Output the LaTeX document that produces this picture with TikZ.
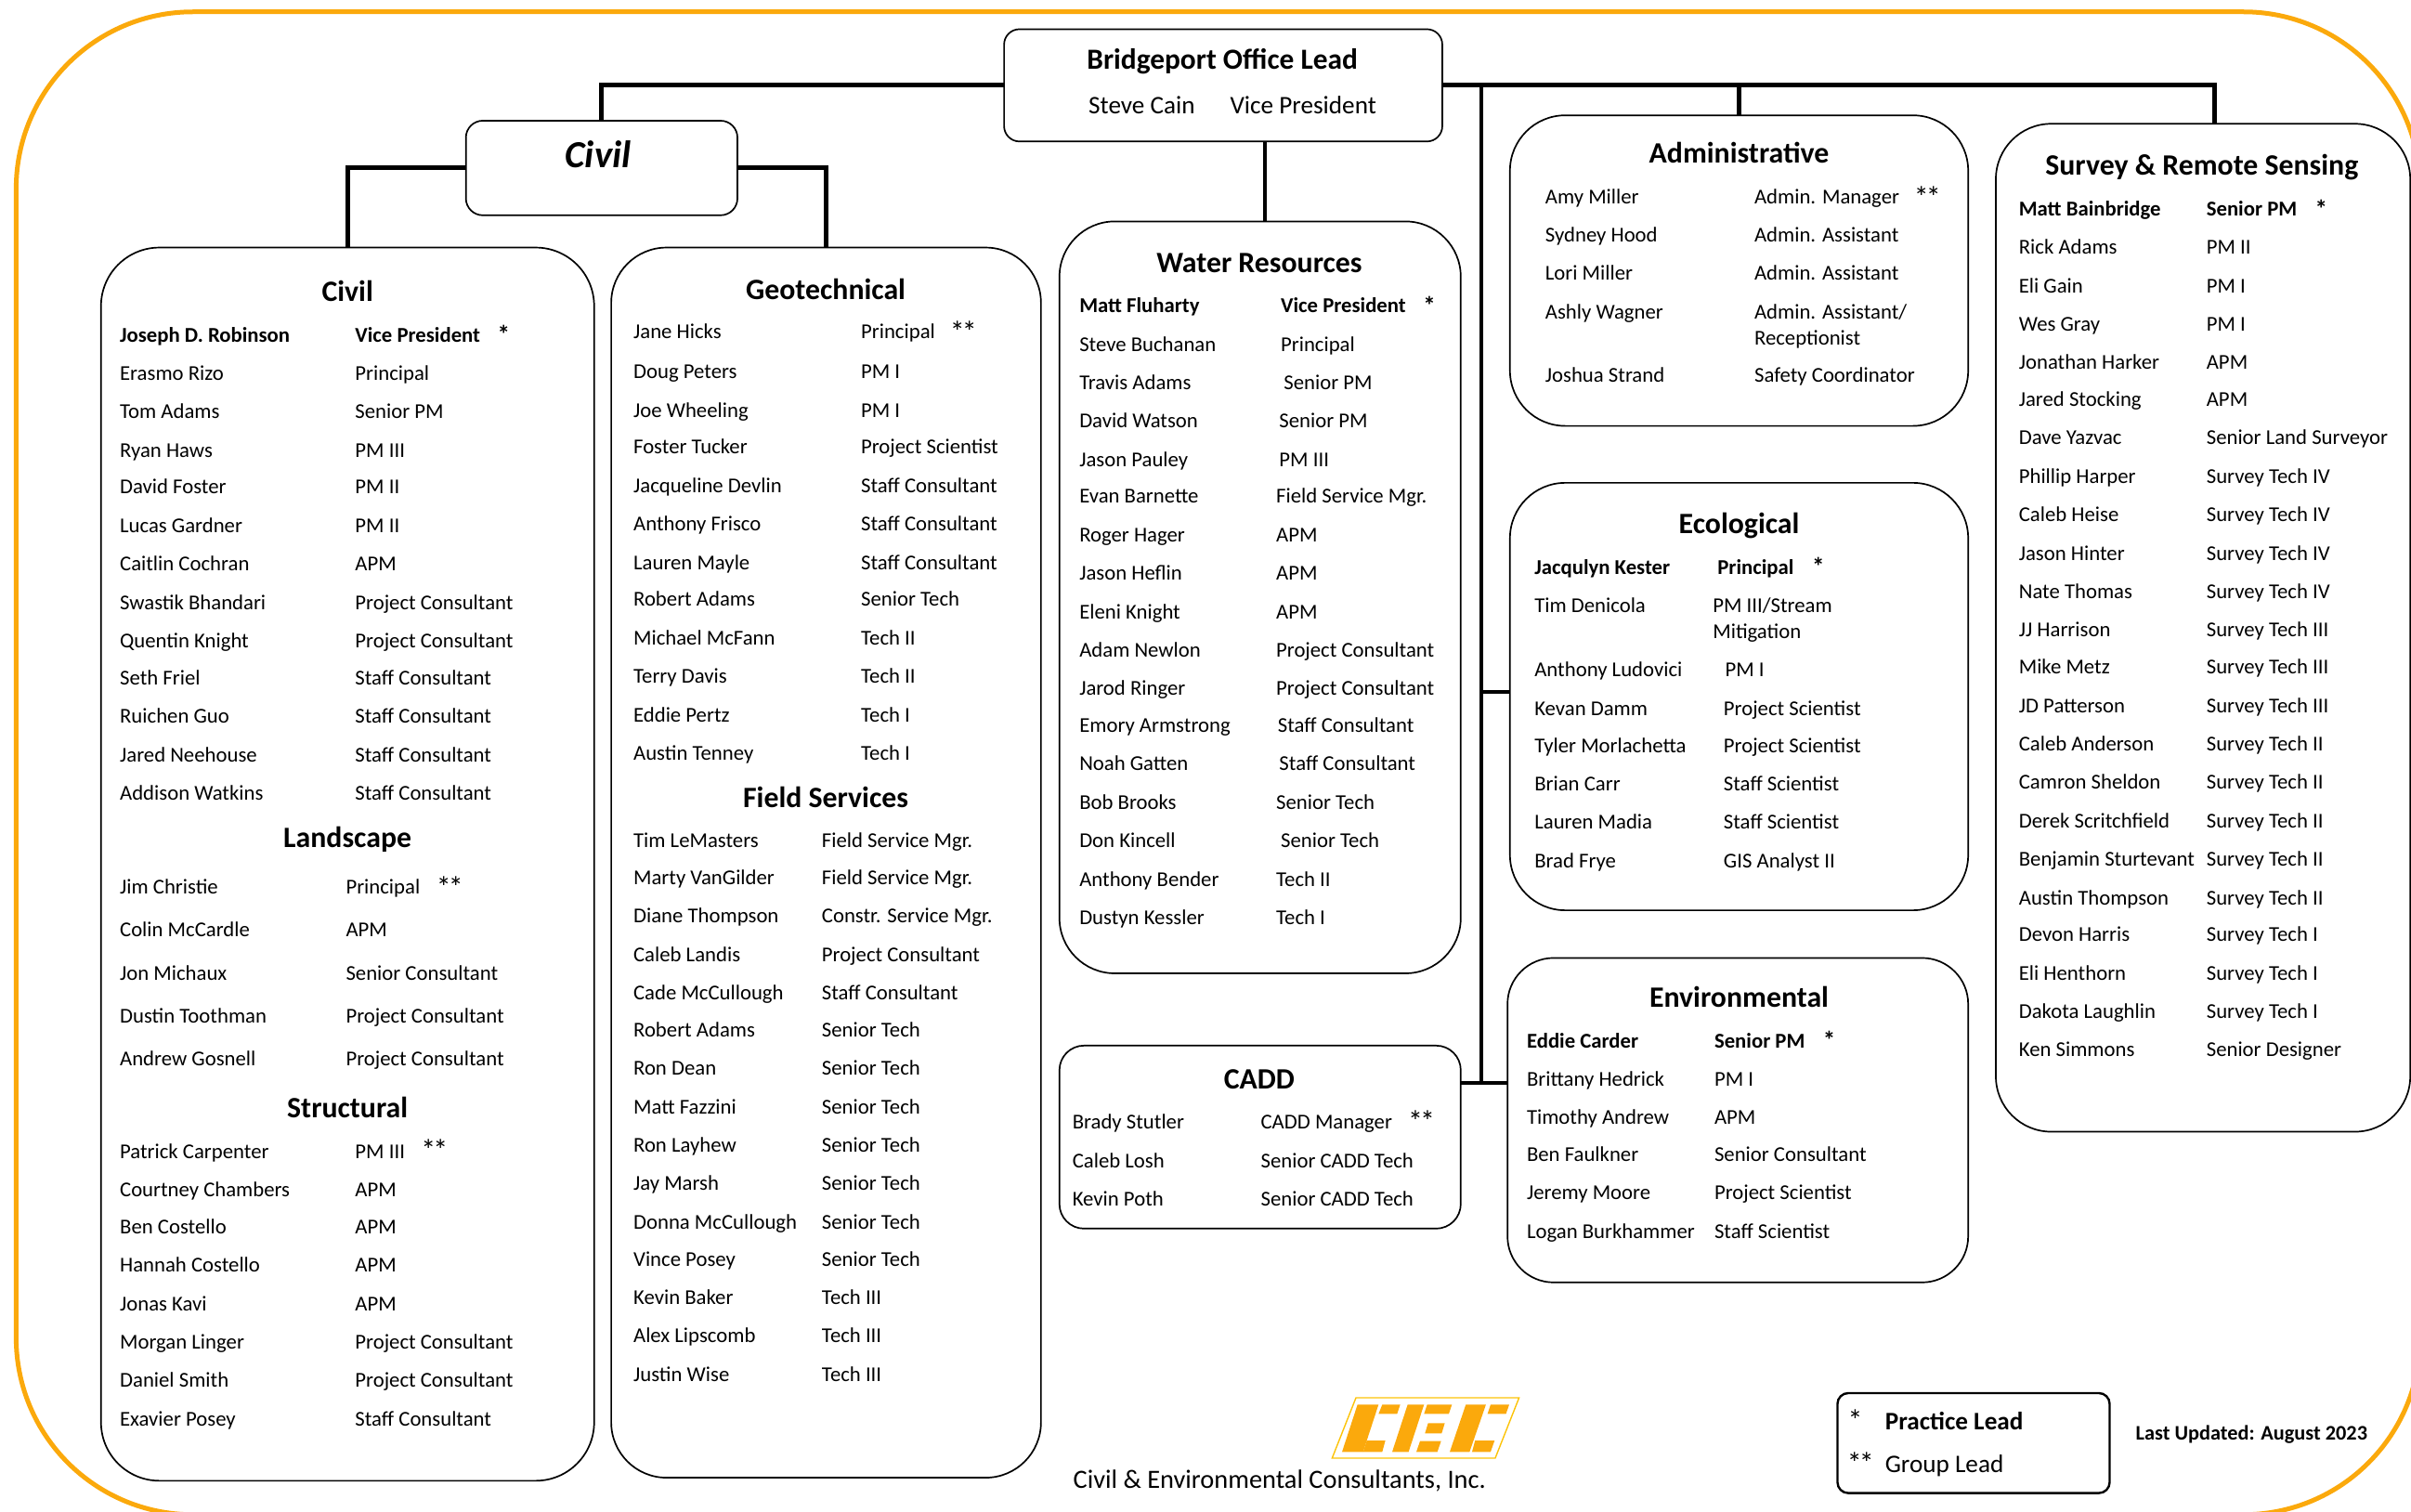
\documentclass[tikz,border=0pt]{standalone}
\usepackage{fontspec}
\setmainfont{Carlito}
\usetikzlibrary{calc}
\definecolor{cecorange}{HTML}{FBA90C}
\newcounter{tn}
\newcommand\dst{*\kern-1.5pt*}
\tikzset{
  txt/.style={anchor=base west,inner sep=0pt,outer sep=0pt,yshift=-4.4pt,font=\fontsize{11.37}{13}\selectfont},
  btxt/.style={txt,font=\fontsize{11.37}{13}\selectfont\bfseries},
  startxt/.style={anchor=base west,inner sep=0pt,outer sep=0pt,xshift=-1pt,yshift=-7.2pt,font=\fontsize{16}{18}\selectfont},
  bstartxt/.style={anchor=base west,inner sep=0pt,outer sep=0pt,yshift=-6.1pt,font=\fontsize{13.5}{15}\selectfont\bfseries},
  head/.style={anchor=base,inner sep=0pt,outer sep=0pt,yshift=-5.8pt,font=\fontsize{15.9}{18}\selectfont\bfseries},
  boxs/.style={draw=black,line width=0.85pt,fill=white,inner sep=0pt,outer sep=0pt,rectangle},
  conn/.style={draw=black,line width=2.05pt},
  thick conn/.style={draw=black,line width=2.4pt},
}
\newcommand\T[4][txt]{\stepcounter{tn}\node[#1] (t\thetn) at (#2,#3) {#4};}
\newcommand\Hd[3]{\stepcounter{tn}\node[head] (t\thetn) at (#1,#2) {#3};}
\newcommand\R[3]{\T{\xa}{#1}{#2}\T{\xb}{#1}{#3}}
\newcommand\Rb[3]{\T[btxt]{\xa}{#1}{#2}\T[btxt]{\xb}{#1}{#3}}
\newcommand\RX[4]{\T{\xa}{#1}{#2}\T{#3}{#1}{#4}}
\newcommand\Bx[7][]{%
  \pgfmathsetlengthmacro\bw{(#5-#3)*0.8278pt}%
  \pgfmathsetlengthmacro\bh{(#6-#4)*0.8278pt}%
  \pgfmathsetlengthmacro\br{#7*0.8278pt}%
  \node[boxs,#1,minimum width=\bw,minimum height=\bh,rounded corners=\br] (#2) at ({(#3+#5)/2},{(#4+#6)/2}) {};}
\begin{document}
\begin{tikzpicture}[x=0.8278pt,y=-0.8278pt]
\useasboundingbox (0,0) rectangle (1568,983);
% outer frame
\Bx[draw=cecorange,line width=2.5pt,fill=none]{frame}{10.5}{7.7}{1574}{985}{115}
% boxes
\Bx{boss}{653}{19}{938}{92}{10}
\Bx{civhead}{303}{78.5}{479.6}{140}{11}
\Bx{civbox}{65.7}{161}{386.4}{963}{38}
\Bx{geo}{397.5}{161}{677}{961}{36}
\Bx{water}{689}{144}{950}{633}{36}
\Bx{cadd}{689}{680}{950}{799}{16}
\Bx{admin}{982}{75}{1280}{277}{36}
\Bx{eco}{982}{314}{1280}{592}{36}
\Bx{env}{980.4}{623}{1280}{834}{30}
\Bx{survey}{1298}{80.5}{1567.5}{736}{36}
\Bx[line width=1.2pt]{legend}{1195}{906}{1372}{971}{7}
% connectors
\coordinate (sv) at (1440,80.5);
\coordinate (wt) at (822.5,144);
\coordinate (vt) at (963.5,55.5);
\coordinate (jE) at (963.5,450);
\coordinate (jC) at (963.5,704.5);
\draw[thick conn] (boss.west) -| (civhead.north);
\draw[thick conn] (boss.east) -| (sv);
\draw[conn] (admin.north) -- (admin.north |- boss.west);
\draw[conn] (wt) -- (wt |- boss.south);
\draw[conn] (vt) -- (jC);
\draw[conn] (jE) -- (jE -| eco.west);
\draw[conn] (jC -| cadd.east) -- (jC -| env.west);
\draw[thick conn] (civhead.west) -| (civbox.north);
\draw[thick conn] (civhead.east) -| (geo.north);
% head texts
\node[anchor=base,inner sep=0pt,font=\fontsize{15.7}{18}\selectfont\bfseries] (bossT) at (795,45) {Bridgeport Office Lead};
\T[txt,font=\fontsize{13.6}{16}\selectfont]{708}{68.5}{Steve Cain}
\T[txt,font=\fontsize{13.6}{16}\selectfont]{800}{68.5}{Vice President}
\node[anchor=base,inner sep=0pt,font=\fontsize{20.6}{24}\selectfont\bfseries\itshape] (civT) at (389,109) {Civil};
% Civil
\Hd{226}{189}{Civil}
\def\xa{78}\def\xb{231}
\Rb{217}{Joseph D. Robinson}{Vice President}\T[bstartxt]{323.5}{216}{*}
\R{242}{Erasmo Rizo}{Principal}
\R{267}{Tom Adams}{Senior PM}
\R{292}{Ryan Haws}{PM III}
\R{316}{David Foster}{PM II}
\R{341}{Lucas Gardner}{PM II}
\R{366}{Caitlin Cochran}{APM}
\R{391}{Swastik Bhandari}{Project Consultant}
\R{416}{Quentin Knight}{Project Consultant}
\R{440}{Seth Friel}{Staff Consultant}
\R{465}{Ruichen Guo}{Staff Consultant}
\R{490}{Jared Neehouse}{Staff Consultant}
\R{515}{Addison Watkins}{Staff Consultant}
\Hd{226}{544}{Landscape}
\def\xb{225}
\R{576}{Jim Christie}{Principal}\T[startxt]{285}{575}{\dst}
\R{604}{Colin McCardle}{APM}
\R{632}{Jon Michaux}{Senior Consultant}
\R{660}{Dustin Toothman}{Project Consultant}
\R{688}{Andrew Gosnell}{Project Consultant}
\Hd{226}{720}{Structural}
\def\xb{231}
\R{748}{Patrick Carpenter}{PM III}\T[startxt]{275}{746}{\dst}
\R{773}{Courtney Chambers}{APM}
\R{797}{Ben Costello}{APM}
\R{822}{Hannah Costello}{APM}
\R{847}{Jonas Kavi}{APM}
\R{872}{Morgan Linger}{Project Consultant}
\R{897}{Daniel Smith}{Project Consultant}
\R{922}{Exavier Posey}{Staff Consultant}
% Geotechnical
\Hd{537}{188}{Geotechnical}
\def\xa{412}\def\xb{560}
\R{215}{Jane Hicks}{Principal}\T[startxt]{619}{214}{\dst}
\R{241}{Doug Peters}{PM I}
\R{266}{Joe Wheeling}{PM I}
\R{290}{Foster Tucker}{Project Scientist}
\R{315}{Jacqueline Devlin}{Staff Consultant}
\R{340}{Anthony Frisco}{Staff Consultant}
\R{365}{Lauren Mayle}{Staff Consultant}
\R{389}{Robert Adams}{Senior Tech}
\R{414}{Michael McFann}{Tech II}
\R{439}{Terry Davis}{Tech II}
\R{464}{Eddie Pertz}{Tech I}
\R{489}{Austin Tenney}{Tech I}
\Hd{537}{518}{Field Services}
\def\xb{534.5}
\R{546}{Tim LeMasters}{Field Service Mgr.}
\R{570}{Marty VanGilder}{Field Service Mgr.}
\R{595}{Diane Thompson}{Constr. Service Mgr.}
\R{620}{Caleb Landis}{Project Consultant}
\R{645}{Cade McCullough}{Staff Consultant}
\R{669}{Robert Adams}{Senior Tech}
\R{694}{Ron Dean}{Senior Tech}
\R{719}{Matt Fazzini}{Senior Tech}
\R{744}{Ron Layhew}{Senior Tech}
\R{769}{Jay Marsh}{Senior Tech}
\R{794}{Donna McCullough}{Senior Tech}
\R{818}{Vince Posey}{Senior Tech}
\R{843}{Kevin Baker}{Tech III}
\R{868}{Alex Lipscomb}{Tech III}
\R{893}{Justin Wise}{Tech III}
% Water
\Hd{819}{170}{Water Resources}
\def\xa{702}\def\xb{833}
\Rb{198}{Matt Fluharty}{Vice President}\T[bstartxt]{925.5}{197}{*}
\RX{223}{Steve Buchanan}{833}{Principal}
\RX{248}{Travis Adams}{835}{Senior PM}
\RX{273}{David Watson}{832}{Senior PM}
\RX{298}{Jason Pauley}{832}{PM III}
\RX{322}{Evan Barnette}{830}{Field Service Mgr.}
\RX{347}{Roger Hager}{830}{APM}
\RX{372}{Jason Heflin}{830}{APM}
\RX{397}{Eleni Knight}{830}{APM}
\RX{422}{Adam Newlon}{830}{Project Consultant}
\RX{447}{Jarod Ringer}{830}{Project Consultant}
\RX{471}{Emory Armstrong}{831}{Staff Consultant}
\RX{496}{Noah Gatten}{832}{Staff Consultant}
\RX{521}{Bob Brooks}{830}{Senior Tech}
\RX{546}{Don Kincell}{833}{Senior Tech}
\RX{571}{Anthony Bender}{830}{Tech II}
\RX{596}{Dustyn Kessler}{830}{Tech I}
% CADD
\Hd{819}{701}{CADD}
\def\xa{697.5}\def\xb{820}
\R{729}{Brady Stutler}{CADD Manager}\T[startxt]{917}{727}{\dst}
\R{754}{Caleb Losh}{Senior CADD Tech}
\R{779}{Kevin Poth}{Senior CADD Tech}
% Administrative
\Hd{1131}{99}{Administrative}
\def\xa{1005}\def\xb{1141}
\R{127}{Amy Miller}{Admin. Manager}\T[startxt]{1246}{126}{\dst}
\R{152}{Sydney Hood}{Admin. Assistant}
\R{177}{Lori Miller}{Admin. Assistant}
\R{202}{Ashly Wagner}{Admin. Assistant/}
\T{1141}{219}{Receptionist}
\R{243}{Joshua Strand}{Safety Coordinator}
% Ecological
\Hd{1131}{340}{Ecological}
\def\xa{998}\def\xb{1121}
\T[btxt]{998}{368}{Jacqulyn Kester}\T[btxt]{1117}{368}{Principal}\T[bstartxt]{1178.5}{367}{*}
\RX{393}{Tim Denicola}{1114}{PM III/Stream}
\T{1114}{410}{Mitigation}
\RX{435}{Anthony Ludovici}{1122}{PM I}
\R{460}{Kevan Damm}{Project Scientist}
\R{484}{Tyler Morlachetta}{Project Scientist}
\R{509}{Brian Carr}{Staff Scientist}
\R{534}{Lauren Madia}{Staff Scientist}
\R{559}{Brad Frye}{GIS Analyst II}
% Environmental
\Hd{1131}{648}{Environmental}
\def\xa{993}\def\xb{1115}
\Rb{676}{Eddie Carder}{Senior PM}\T[bstartxt]{1185.5}{675}{*}
\R{701}{Brittany Hedrick}{PM I}
\R{726}{Timothy Andrew}{APM}
\R{750}{Ben Faulkner}{Senior Consultant}
\R{775}{Jeremy Moore}{Project Scientist}
\R{800}{Logan Burkhammer}{Staff Scientist}
% Survey
\Hd{1432}{107}{Survey \& Remote Sensing}
\def\xa{1313}\def\xb{1435}
\Rb{135}{Matt Bainbridge}{Senior PM}\T[bstartxt]{1505.5}{134}{*}
\R{160}{Rick Adams}{PM II}
\R{185}{Eli Gain}{PM I}
\R{210}{Wes Gray}{PM I}
\R{235}{Jonathan Harker}{APM}
\R{259}{Jared Stocking}{APM}
\R{284}{Dave Yazvac}{Senior Land Surveyor}
\R{309}{Phillip Harper}{Survey Tech IV}
\R{334}{Caleb Heise}{Survey Tech IV}
\R{359}{Jason Hinter}{Survey Tech IV}
\R{384}{Nate Thomas}{Survey Tech IV}
\R{409}{JJ Harrison}{Survey Tech III}
\R{433}{Mike Metz}{Survey Tech III}
\R{458}{JD Patterson}{Survey Tech III}
\R{483}{Caleb Anderson}{Survey Tech II}
\R{508}{Camron Sheldon}{Survey Tech II}
\R{533}{Derek Scritchfield}{Survey Tech II}
\R{558}{Benjamin Sturtevant}{Survey Tech II}
\R{583}{Austin Thompson}{Survey Tech II}
\R{607}{Devon Harris}{Survey Tech I}
\R{632}{Eli Henthorn}{Survey Tech I}
\R{657}{Dakota Laughlin}{Survey Tech I}
\R{682}{Ken Simmons}{Senior Designer}
% legend
\T[startxt]{1203}{921.5}{*}
\T[txt,font=\fontsize{13.6}{16}\selectfont\bfseries]{1226}{924.5}{Practice Lead}
\T[startxt]{1202.5}{949.5}{\dst}
\T[txt,font=\fontsize{13.6}{16}\selectfont]{1226}{952.5}{Group Lead}
\T[btxt,font=\fontsize{11.15}{13}\selectfont\bfseries]{1389}{931}{Last Updated: August 2023}
% logo
\begin{scope}[shift={(860.7,903)},scale=0.2013]
\draw[draw=cecorange!70!yellow,line width=0.7pt] (28,225) -- (555,225) -- (632,30) -- (105,30) -- cycle;
\fill[cecorange] (110,52) -- (178,52) -- (128,205) -- (60,205) -- cycle;
\fill[cecorange] (190,52) -- (248,52) -- (238,82) -- (178,82) -- cycle;
\fill[cecorange] (140,168) -- (200,168) -- (190,205) -- (128,205) -- cycle;
\fill[cecorange] (272,52) -- (325,52) -- (275,205) -- (222,205) -- cycle;
\fill[cecorange] (335,52) -- (415,52) -- (405,82) -- (325,82) -- cycle;
\fill[cecorange] (338,112) -- (392,112) -- (382,145) -- (328,145) -- cycle;
\fill[cecorange] (312,170) -- (380,170) -- (368,205) -- (300,205) -- cycle;
\fill[cecorange] (460,52) -- (525,52) -- (472,205) -- (408,205) -- cycle;
\fill[cecorange] (540,52) -- (600,52) -- (590,82) -- (530,82) -- cycle;
\fill[cecorange] (490,168) -- (553,168) -- (540,205) -- (480,205) -- cycle;
\end{scope}
\T[txt,font=\fontsize{14.2}{16}\selectfont]{698}{962.5}{Civil \& Environmental Consultants, Inc.}
\end{tikzpicture}
\end{document}
